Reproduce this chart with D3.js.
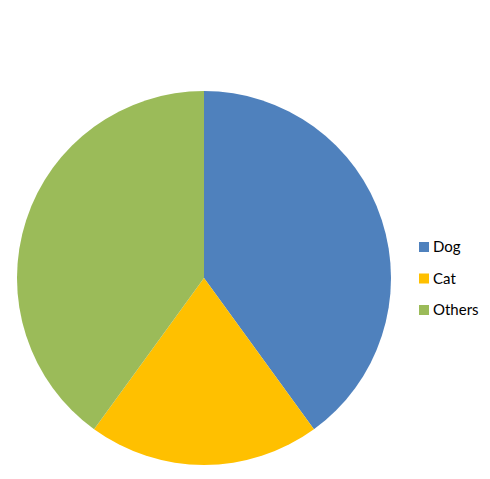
<!DOCTYPE html>
<html>
<head>
<meta charset="utf-8">
<script src="https://cdn.jsdelivr.net/npm/d3@7"></script>
<style>
  body { margin: 0; background: #fff; }
  text { font-family: Lato, "Open Sans", sans-serif; }
</style>
</head>
<body>
<script>
let w = 490;
let h = 479;

const categories = ["Dog", "Cat", "Others"];
const values = [40, 20, 40];
const colors = ["#4f81bd", "#ffc000", "#9bbb59"];

let cx = 204, cy = 278, radius = 187;

let svg = d3.select("body")
            .append("svg")
            .attr("width", w)
            .attr("height", h);

let pie = d3.pie().sort(null).value(d => d.value);
let arc = d3.arc().innerRadius(0).outerRadius(radius);

let data = categories.map((c, i) => ({name: c, value: values[i], color: colors[i]}));

svg.append("g")
   .attr("transform", `translate(${cx},${cy})`)
   .selectAll("path")
   .data(pie(data))
   .enter()
   .append("path")
   .attr("d", arc)
   .attr("fill", d => d.data.color);

// legend
let legendY = d3.scalePoint().domain(categories).range([247, 310]);

let legend = svg.append("g").attr("transform", "translate(419,0)");
legend.selectAll("rect")
      .data(data)
      .enter()
      .append("rect")
      .attr("x", 0)
      .attr("y", d => legendY(d.name) - 5)
      .attr("width", 10)
      .attr("height", 10)
      .attr("fill", d => d.color);
legend.selectAll("text")
      .data(data)
      .enter()
      .append("text")
      .attr("x", 14)
      .attr("y", d => legendY(d.name))
      .attr("dy", "0.35em")
      .attr("font-size", 15)
      .attr("fill", "#000")
      .text(d => d.name);
</script>
</body>
</html>
